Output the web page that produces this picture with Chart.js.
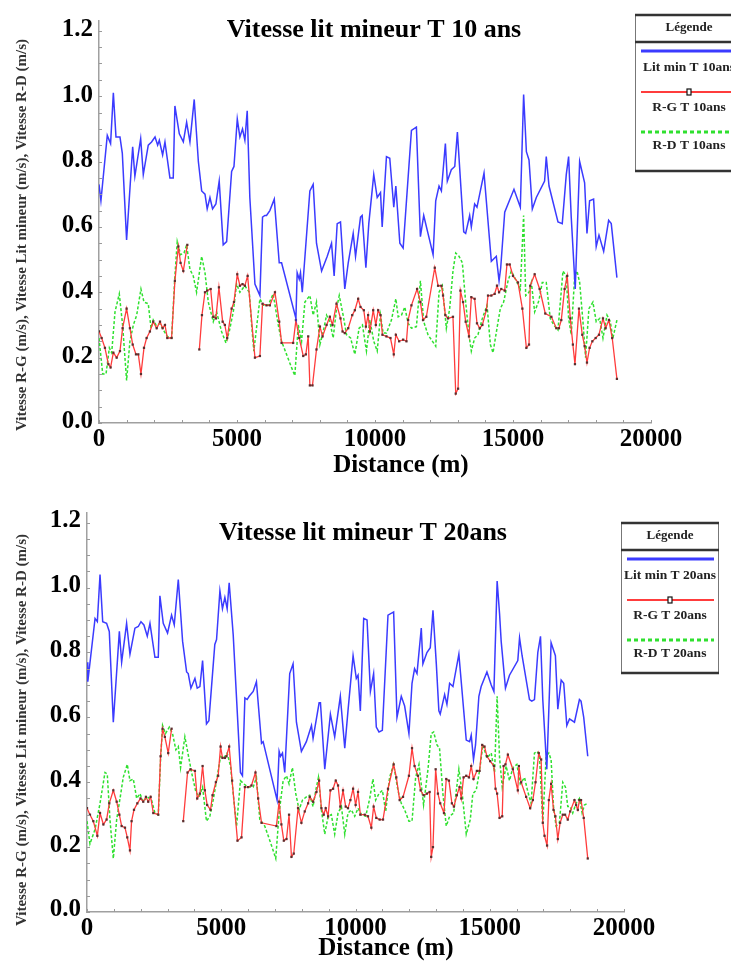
<!DOCTYPE html>
<html>
<head>
<meta charset="utf-8">
<script src="https://cdn.jsdelivr.net/npm/chart.js@4.4.1/dist/chart.umd.min.js"></script>
<style>
  body { margin: 0; background: #fff; width: 731px; height: 967px; overflow: hidden; }
  .box { position: absolute; left: 0; width: 731px; }
</style>
</head>
<body>
<div class="box" style="top:0"><canvas id="c10" width="731" height="485"></canvas></div>
<div class="box" style="top:490px"><canvas id="c20" width="731" height="477"></canvas></div>
<script>
// series names (legend)
const names10 = ["Lit min T 10ans", "R-G T 10ans", "R-D T 10ans"];
const names20 = ["Lit min T 20ans", "R-G T 20ans", "R-D T 20ans"];
const yTitle = "Vitesse R-G (m/s), Vitesse Lit mineur (m/s), Vitesse R-D (m/s)";
const xTitle = "Distance (m)";

// T 10 ans : [distance (m), vitesse (m/s)]
const lit10 = [[0,0.73],[70,0.68],[300,0.88],[420,0.855],[520,1.01],[615,0.875],[760,0.875],[845,0.825],[1000,0.56],[1220,0.845],[1300,0.755],[1510,0.87],[1605,0.76],[1785,0.85],[1905,0.86],[2030,0.875],[2125,0.85],[2185,0.865],[2305,0.82],[2390,0.86],[2570,0.75],[2690,0.75],[2750,0.97],[2910,0.885],[3055,0.86],[3175,0.92],[3295,0.86],[3450,0.99],[3600,0.80],[3720,0.71],[3840,0.70],[3920,0.655],[4020,0.69],[4115,0.655],[4235,0.67],[4355,0.74],[4500,0.545],[4625,0.555],[4805,0.77],[4890,0.785],[5010,0.93],[5105,0.875],[5200,0.90],[5285,0.865],[5370,0.955],[5465,0.69],[5650,0.425],[5830,0.39],[5925,0.63],[6010,0.635],[6070,0.635],[6190,0.65],[6350,0.685],[6530,0.49],[6615,0.49],[7135,0.32],[7180,0.46],[7255,0.44],[7300,0.46],[7365,0.40],[7640,0.71],[7760,0.73],[7880,0.55],[8065,0.465],[8270,0.51],[8425,0.55],[8520,0.45],[8630,0.61],[8750,0.615],[8905,0.41],[9030,0.49],[9210,0.58],[9295,0.51],[9475,0.63],[9535,0.635],[9670,0.475],[9775,0.61],[9955,0.76],[10080,0.69],[10200,0.705],[10260,0.60],[10415,0.815],[10535,0.81],[10680,0.66],[10755,0.725],[10900,0.55],[11020,0.535],[11320,0.895],[11500,0.905],[11645,0.57],[11765,0.635],[11920,0.58],[12105,0.515],[12200,0.68],[12320,0.725],[12405,0.71],[12550,0.855],[12620,0.74],[12765,0.775],[12890,0.785],[12985,0.89],[13215,0.585],[13285,0.58],[13430,0.635],[13490,0.60],[13610,0.67],[13695,0.66],[13950,0.765],[14215,0.495],[14395,0.51],[14495,0.435],[14555,0.475],[14700,0.645],[15035,0.715],[15265,0.66],[15385,1.005],[15485,0.83],[15580,0.805],[15700,0.655],[15845,0.69],[16145,0.74],[16205,0.815],[16305,0.725],[16630,0.615],[16785,0.61],[16930,0.76],[17015,0.815],[17110,0.63],[17255,0.41],[17415,0.80],[17595,0.735],[17680,0.58],[17775,0.68],[17920,0.685],[18015,0.54],[18115,0.575],[18285,0.525],[18465,0.62],[18560,0.61],[18765,0.445]];
const rg10 = [[0,0.28],[95,0.26],[215,0.23],[340,0.18],[420,0.17],[520,0.215],[640,0.20],[760,0.22],[855,0.29],[1000,0.35],[1120,0.29],[1220,0.24],[1340,0.21],[1425,0.21],[1520,0.15],[1630,0.23],[1725,0.26],[1845,0.28],[1965,0.31],[2090,0.29],[2210,0.31],[2305,0.29],[2390,0.30],[2475,0.26],[2630,0.26],[2750,0.435],[2875,0.54],[2955,0.49],[3055,0.465],[3200,0.545],[3400,null],[3635,0.225],[3730,0.33],[3840,0.40],[3920,0.405],[4045,0.41],[4140,0.325],[4235,0.32],[4345,0.415],[4480,0.31],[4560,0.30],[4645,0.26],[4805,0.35],[4890,0.37],[5010,0.455],[5105,0.42],[5200,0.425],[5285,0.42],[5385,0.45],[5650,0.20],[5830,0.205],[5925,0.365],[6070,0.36],[6190,0.36],[6375,0.40],[6530,0.31],[6615,0.245],[7035,0.245],[7135,0.315],[7255,0.26],[7400,0.205],[7495,0.21],[7580,0.265],[7640,0.115],[7735,0.115],[7880,0.225],[8005,0.295],[8100,0.265],[8245,0.30],[8365,0.325],[8460,0.30],[8605,0.365],[8750,0.32],[8825,0.28],[8905,0.275],[9030,0.29],[9175,0.33],[9270,0.345],[9390,0.38],[9475,0.355],[9595,0.345],[9670,0.295],[9750,0.33],[9815,0.28],[9935,0.345],[10030,0.30],[10115,0.345],[10200,0.33],[10270,0.27],[10415,0.265],[10560,0.26],[10680,0.21],[10755,0.27],[10875,0.25],[11020,0.255],[11140,0.25],[11200,0.315],[11320,0.36],[11525,0.41],[11645,0.37],[11740,0.315],[11860,0.325],[12165,0.475],[12285,0.42],[12405,0.42],[12465,0.39],[12550,0.33],[12645,0.32],[12825,0.325],[12925,0.09],[13010,0.105],[13095,0.405],[13190,0.37],[13285,0.31],[13405,0.265],[13490,0.385],[13610,0.38],[13695,0.305],[13795,0.29],[13890,0.30],[14035,0.345],[14095,0.39],[14215,0.39],[14335,0.395],[14420,0.42],[14495,0.40],[14575,0.41],[14700,0.405],[14780,0.485],[14880,0.485],[15000,0.45],[15180,0.43],[15340,0.35],[15485,0.23],[15580,0.24],[15625,0.42],[15785,0.455],[15965,0.41],[16170,0.335],[16390,0.325],[16570,0.29],[16665,0.29],[16750,0.315],[16870,0.41],[16965,0.45],[17075,0.32],[17170,0.24],[17245,0.18],[17390,0.35],[17510,0.27],[17595,0.235],[17680,0.185],[17775,0.23],[17875,0.25],[17995,0.26],[18115,0.27],[18260,0.32],[18355,0.29],[18475,0.315],[18595,0.26],[18765,0.135]];
const rd10 = [[0,0.26],[135,0.15],[255,0.15],[375,0.23],[460,0.215],[580,0.34],[735,0.395],[855,0.30],[1000,0.13],[1120,0.25],[1245,0.30],[1365,0.33],[1520,0.41],[1630,0.37],[1785,0.365],[1885,0.29],[1965,0.315],[2065,0.30],[2210,0.305],[2330,0.285],[2475,0.265],[2630,0.26],[2750,0.45],[2835,0.555],[2955,0.515],[3080,0.52],[3175,0.545],[3295,0.47],[3415,0.45],[3535,0.40],[3720,0.51],[3840,0.46],[3960,0.37],[4140,0.31],[4260,0.34],[4440,0.28],[4600,0.245],[4720,0.28],[4865,0.34],[4985,0.425],[5105,0.40],[5285,0.42],[5445,0.40],[5530,0.30],[5610,0.22],[5830,0.38],[5950,0.36],[6130,0.36],[6310,0.395],[6495,0.30],[6615,0.25],[6795,0.21],[6975,0.17],[7095,0.145],[7220,0.30],[7340,0.25],[7460,0.37],[7640,0.39],[7760,0.33],[7880,0.37],[8005,0.24],[8125,0.28],[8245,0.33],[8365,0.31],[8485,0.26],[8605,0.35],[8705,0.39],[8845,0.33],[8970,0.27],[9115,0.26],[9270,0.21],[9425,0.29],[9545,0.30],[9690,0.22],[9815,0.315],[9955,0.25],[10080,0.22],[10200,0.33],[10295,0.275],[10415,0.275],[10595,0.315],[10755,0.38],[10840,0.325],[10960,0.33],[11080,0.355],[11200,0.305],[11320,0.29],[11500,0.295],[11645,0.435],[11765,0.31],[11920,0.27],[12200,0.235],[12320,0.40],[12440,0.42],[12585,0.29],[12705,0.35],[12825,0.465],[12925,0.52],[13045,0.51],[13165,0.49],[13285,0.37],[13405,0.27],[13490,0.22],[13610,0.26],[13730,0.27],[13890,0.32],[14060,0.36],[14180,0.24],[14275,0.215],[14420,0.29],[14540,0.35],[14660,0.37],[14820,0.435],[14940,0.465],[15120,0.435],[15265,0.41],[15385,0.635],[15460,0.39],[15580,0.40],[15665,0.43],[15785,0.34],[15940,0.375],[16060,0.43],[16205,0.43],[16350,0.32],[16475,0.30],[16630,0.285],[16810,0.465],[16930,0.45],[17015,0.32],[17110,0.27],[17235,0.45],[17320,0.465],[17415,0.43],[17535,0.31],[17630,0.20],[17750,0.35],[17895,0.37],[18015,0.31],[18140,0.32],[18260,0.26],[18405,0.33],[18525,0.31],[18620,0.26],[18765,0.315]];

// T 20 ans
const lit20 = [[0,0.77],[30,0.71],[300,0.905],[385,0.895],[485,1.04],[585,0.895],[730,0.89],[830,0.865],[980,0.585],[1205,0.865],[1290,0.77],[1475,0.89],[1600,0.795],[1785,0.875],[1910,0.88],[2010,0.895],[2120,0.885],[2245,0.85],[2345,0.89],[2530,0.785],[2655,0.785],[2715,0.975],[2840,0.89],[3000,0.86],[3150,0.915],[3250,0.885],[3400,1.025],[3560,0.835],[3710,0.74],[3770,0.735],[3870,0.69],[4020,0.72],[4105,0.69],[4205,0.695],[4305,0.775],[4450,0.58],[4540,0.59],[4760,0.825],[4825,0.84],[4950,0.99],[5045,0.935],[5135,0.97],[5220,0.935],[5295,1.015],[5445,0.855],[5715,0.43],[5790,0.42],[5880,0.66],[5965,0.655],[6040,0.665],[6190,0.68],[6310,0.71],[6500,0.52],[6560,0.525],[7080,0.345],[7155,0.495],[7205,0.48],[7280,0.49],[7365,0.43],[7550,0.735],[7675,0.765],[7800,0.585],[7985,0.495],[8170,0.525],[8360,0.575],[8420,0.535],[8645,0.645],[8695,0.645],[8855,0.44],[9065,0.61],[9225,0.54],[9435,0.665],[9600,0.505],[9720,0.62],[9910,0.79],[10030,0.72],[10095,0.73],[10180,0.62],[10305,0.905],[10430,0.90],[10555,0.68],[10675,0.735],[10775,0.57],[10875,0.555],[11000,0.56],[11210,0.915],[11420,0.925],[11545,0.60],[11705,0.665],[11830,0.635],[11990,0.55],[12105,0.705],[12200,0.75],[12290,0.735],[12450,0.875],[12510,0.765],[12660,0.80],[12785,0.815],[12885,0.93],[13010,0.765],[13105,0.62],[13155,0.61],[13320,0.67],[13405,0.64],[13505,0.705],[13630,0.695],[13850,0.795],[14125,0.53],[14250,0.525],[14310,0.545],[14395,0.47],[14470,0.515],[14595,0.665],[14680,0.695],[14895,0.74],[15055,0.70],[15155,0.68],[15275,1.02],[15365,0.92],[15425,0.835],[15585,0.69],[15735,0.73],[16045,0.775],[16110,0.845],[16205,0.79],[16480,0.655],[16565,0.65],[16665,0.655],[16790,0.80],[16890,0.85],[16975,0.655],[17125,0.44],[17285,0.83],[17445,0.79],[17535,0.625],[17660,0.715],[17755,0.705],[17870,0.575],[17970,0.595],[18155,0.585],[18340,0.655],[18400,0.65],[18500,0.60],[18650,0.48]];
const rg20 = [[0,0.32],[110,0.30],[235,0.28],[385,0.235],[485,0.305],[610,0.27],[730,0.285],[830,0.335],[980,0.375],[1105,0.34],[1205,0.30],[1290,0.265],[1415,0.26],[1500,0.23],[1600,0.19],[1660,0.28],[1750,0.315],[1875,0.335],[1995,0.35],[2095,0.34],[2195,0.355],[2280,0.34],[2370,0.355],[2470,0.305],[2655,0.30],[2740,0.48],[2815,0.565],[2900,0.54],[3025,0.49],[3150,0.565],[3350,null],[3585,0.28],[3745,0.43],[3855,0.44],[4020,0.435],[4105,0.35],[4205,0.365],[4305,0.45],[4390,0.375],[4475,0.33],[4600,0.315],[4675,0.36],[4800,0.40],[4885,0.42],[4975,0.51],[5045,0.475],[5135,0.475],[5195,0.48],[5295,0.51],[5405,0.405],[5605,0.22],[5755,0.23],[5880,0.385],[6000,0.385],[6125,0.39],[6275,0.43],[6375,0.35],[6500,0.275],[7055,0.265],[7155,0.34],[7240,0.27],[7330,0.22],[7430,0.225],[7525,0.30],[7615,0.17],[7700,0.18],[7860,0.32],[7985,0.275],[8110,0.31],[8235,0.335],[8295,0.355],[8420,0.34],[8545,0.37],[8645,0.405],[8730,0.32],[8815,0.30],[8890,0.32],[8980,0.295],[9065,0.375],[9165,0.38],[9265,0.405],[9350,0.39],[9435,0.325],[9535,0.375],[9635,0.325],[9720,0.32],[9810,0.345],[9910,0.38],[10005,0.33],[10095,0.37],[10180,0.30],[10345,0.30],[10465,0.295],[10590,0.26],[10675,0.325],[10775,0.29],[10900,0.285],[11025,0.285],[11210,0.38],[11420,0.455],[11520,0.415],[11645,0.345],[11770,0.355],[11990,0.42],[12105,0.505],[12200,0.45],[12325,0.42],[12425,0.375],[12535,0.36],[12660,0.365],[12760,0.37],[12820,0.17],[12885,0.20],[12985,0.44],[13070,0.365],[13155,0.335],[13295,0.305],[13380,0.41],[13480,0.405],[13590,0.335],[13665,0.325],[13775,0.36],[13875,0.385],[13940,0.35],[14025,0.415],[14125,0.42],[14225,0.415],[14310,0.45],[14395,0.41],[14520,0.435],[14620,0.435],[14720,0.515],[14805,0.51],[14895,0.48],[15015,0.465],[15155,0.45],[15215,0.38],[15275,0.365],[15365,0.29],[15465,0.295],[15515,0.45],[15585,0.455],[15675,0.485],[15860,0.44],[16045,0.375],[16085,0.45],[16170,0.40],[16355,0.355],[16505,0.32],[16605,0.345],[16705,0.40],[16825,0.49],[16915,0.47],[16975,0.275],[17040,0.235],[17135,0.205],[17200,0.345],[17285,0.395],[17375,0.315],[17445,0.295],[17535,0.225],[17620,0.275],[17720,0.30],[17805,0.30],[17905,0.285],[17995,0.31],[18155,0.345],[18215,0.33],[18280,0.315],[18340,0.345],[18400,0.345],[18500,0.29],[18650,0.165]];
const rd20 = [[0,0.28],[110,0.21],[300,0.255],[485,0.335],[670,0.43],[755,0.425],[855,0.285],[980,0.165],[1105,0.285],[1230,0.35],[1350,0.415],[1500,0.455],[1600,0.405],[1725,0.41],[1850,0.35],[1970,0.365],[2095,0.34],[2245,0.355],[2405,0.345],[2530,0.305],[2655,0.30],[2740,0.47],[2815,0.575],[2925,0.55],[3065,0.57],[3185,0.55],[3310,0.50],[3400,0.51],[3485,0.445],[3645,0.54],[3770,0.485],[3895,0.43],[4055,0.37],[4180,0.355],[4305,0.385],[4450,0.28],[4575,0.295],[4700,0.345],[4825,0.405],[4975,0.48],[5095,0.475],[5220,0.49],[5345,0.45],[5470,0.345],[5570,0.265],[5715,0.405],[5840,0.395],[6000,0.385],[6190,0.385],[6310,0.415],[6435,0.285],[6620,0.265],[6810,0.22],[7030,0.165],[7155,0.305],[7305,0.405],[7430,0.42],[7525,0.395],[7650,0.445],[7775,0.365],[7900,0.315],[8025,0.345],[8170,0.355],[8295,0.36],[8420,0.325],[8520,0.375],[8620,0.415],[8730,0.315],[8855,0.24],[8980,0.295],[9100,0.30],[9225,0.24],[9350,0.305],[9475,0.325],[9600,0.24],[9720,0.305],[9845,0.315],[9970,0.295],[10095,0.32],[10220,0.30],[10380,0.295],[10530,0.35],[10650,0.41],[10750,0.345],[10875,0.365],[11000,0.375],[11125,0.31],[11270,0.415],[11420,0.455],[11580,0.375],[11705,0.335],[11830,0.315],[11990,0.28],[12105,0.28],[12240,0.415],[12365,0.455],[12535,0.33],[12700,0.44],[12820,0.55],[12910,0.555],[13035,0.515],[13130,0.505],[13255,0.365],[13380,0.265],[13505,0.295],[13655,0.305],[13850,0.44],[13975,0.365],[14125,0.24],[14275,0.285],[14370,0.365],[14495,0.375],[14620,0.435],[14745,0.515],[14895,0.475],[15055,0.49],[15180,0.43],[15275,0.665],[15365,0.475],[15465,0.385],[15610,0.45],[15735,0.405],[15860,0.445],[16010,0.455],[16135,0.395],[16295,0.415],[16420,0.37],[16540,0.335],[16665,0.49],[16755,0.495],[16850,0.485],[16975,0.275],[17100,0.48],[17200,0.49],[17285,0.47],[17375,0.325],[17470,0.265],[17595,0.275],[17720,0.40],[17820,0.385],[17905,0.325],[17995,0.325],[18090,0.305],[18215,0.335],[18340,0.35],[18440,0.305],[18525,0.33],[18650,0.335]];

const serif = "'Liberation Serif', 'Times New Roman', serif";
const BLUE = "#3b3bff", RED = "#ff3c3c", GREEN = "#2fe02f", MARK = "#5b2e2e";

function pts(arr) { return arr.map(p => ({ x: p[0], y: p[1] })); }

// titles, minor ticks and the boxed legend
const decor = {
  id: "decor",
  afterDraw(chart, args, o) {
    const ctx = chart.ctx, xs = chart.scales.x, ys = chart.scales.y, a = chart.chartArea;
    ctx.save();
    // minor ticks, pointing inside
    ctx.strokeStyle = "#9a9a9a";
    ctx.lineWidth = 1;
    ctx.beginPath();
    for (let i = 0; i <= 24; i++) {
      const py = Math.round(ys.getPixelForValue(i * 0.05)) + 0.5;
      ctx.moveTo(a.left, py); ctx.lineTo(a.left + 3, py);
    }
    for (let i = 0; i <= 20; i++) {
      const px = Math.round(xs.getPixelForValue(i * 1000)) + 0.5;
      ctx.moveTo(px, a.bottom); ctx.lineTo(px, a.bottom - 3);
    }
    ctx.stroke();

    // chart title and x title
    ctx.fillStyle = "#000";
    ctx.textAlign = "center";
    ctx.textBaseline = "middle";
    ctx.font = "bold 26px " + serif;
    ctx.fillText(o.title, o.titleX, o.titleY);
    ctx.font = "bold 25px " + serif;
    ctx.fillText(xTitle, o.xtX, o.xtY);

    // y axis title
    ctx.save();
    ctx.translate(o.ytX, o.ytY);
    ctx.rotate(-Math.PI / 2);
    ctx.fillStyle = "#333";
    ctx.font = "bold 15px " + serif;
    ctx.fillText(yTitle, 0, 0);
    ctx.restore();

    // legend box
    const L = o.legend;
    const cx = L.x + L.w / 2;
    ctx.strokeStyle = "#777"; ctx.lineWidth = 1;
    ctx.beginPath();
    ctx.moveTo(L.x + 0.5, L.y); ctx.lineTo(L.x + 0.5, L.y + L.h);
    ctx.moveTo(L.x + L.w - 0.5, L.y); ctx.lineTo(L.x + L.w - 0.5, L.y + L.h);
    ctx.stroke();
    ctx.strokeStyle = "#333"; ctx.lineWidth = 2.5;
    ctx.beginPath();
    ctx.moveTo(L.x, L.y); ctx.lineTo(L.x + L.w, L.y);
    ctx.moveTo(L.x, L.y + L.h); ctx.lineTo(L.x + L.w, L.y + L.h);
    ctx.moveTo(L.x, L.y + 27); ctx.lineTo(L.x + L.w, L.y + 27);
    ctx.stroke();
    ctx.font = "bold 13px " + serif;
    ctx.fillStyle = "#222";
    ctx.fillText("Légende", cx, L.y + 13);

    const lineY = [36, 77, 117], textY = [53, 93, 131];
    chart.data.datasets.forEach((ds, i) => {
      const ly = L.y + lineY[i];
      ctx.save();
      ctx.strokeStyle = ds.borderColor;
      ctx.lineWidth = i === 1 ? 2 : 3;
      if (i === 2) ctx.setLineDash([4, 3]);
      ctx.beginPath();
      ctx.moveTo(L.x + 6, ly); ctx.lineTo(L.x + L.w - 5, ly);
      ctx.stroke();
      ctx.restore();
      if (i === 1) {
        ctx.fillStyle = "#fff"; ctx.strokeStyle = "#111"; ctx.lineWidth = 1.2;
        ctx.fillRect(cx - 2, ly - 3, 4, 6);
        ctx.strokeRect(cx - 2, ly - 3, 4, 6);
      }
      ctx.fillStyle = "#222";
      ctx.font = "bold 13.5px " + serif;
      ctx.fillText(ds.label, cx, L.y + textY[i]);
    });
    ctx.restore();
  }
};

function makeChart(id, lit, rg, rd, names, o) {
  return new Chart(document.getElementById(id), {
    type: "line",
    data: {
      datasets: [
        { label: names[0], data: pts(lit), borderColor: BLUE, borderWidth: 1.5, pointRadius: 0 },
        { label: names[1], data: pts(rg), borderColor: RED, borderWidth: 1.3, pointStyle: "rect",
          pointRadius: 1.6, pointBackgroundColor: MARK, pointBorderColor: MARK, pointBorderWidth: 0 },
        { label: names[2], data: pts(rd), borderColor: GREEN, borderWidth: 1.5, borderDash: [3, 2], pointRadius: 0 }
      ]
    },
    options: {
      responsive: false,
      animation: false,
      devicePixelRatio: 1,
      spanGaps: false,
      layout: { padding: { top: o.top, right: o.right, left: 0, bottom: 0 } },
      plugins: {
        legend: { display: false },
        tooltip: { enabled: false },
        decor: o
      },
      scales: {
        x: {
          type: "linear", min: 0, max: 20000,
          afterFit: s => { s.height = o.xh; },
          ticks: { stepSize: 5000, color: "#000", font: { family: serif, size: 25, weight: "bold" }, padding: 2, maxRotation: 0,
            callback: v => String(v) },
          grid: { drawOnChartArea: false, drawTicks: false },
          border: { color: "#a0a0a0", width: 1.5 }
        },
        y: {
          min: 0, max: 1.23,
          afterFit: s => { s.width = o.yw; },
          ticks: { stepSize: 0.2, includeBounds: false, color: "#000", font: { family: serif, size: 25, weight: "bold" }, padding: 6,
            labelOffset: o.lo, callback: v => v.toFixed(1) },
          grid: { drawOnChartArea: false, drawTicks: false },
          border: { color: "#a0a0a0", width: 1.5 }
        }
      }
    },
    plugins: [decor]
  });
}

makeChart("c10", lit10, rg10, rd10, names10, {
  top: 14, right: 80, yw: 99, xh: 62, lo: -1,
  title: "Vitesse lit mineur T 10 ans", titleX: 374, titleY: 30, ytX: 22, ytY: 235,
  xtX: 401, xtY: 466,
  legend: { x: 635, y: 15, w: 108, h: 156 }
});
makeChart("c20", lit20, rg20, rd20, names20, {
  top: 23, right: 107, yw: 87, xh: 55, lo: -2,
  title: "Vitesse lit mineur T 20ans", titleX: 363, titleY: 43, ytX: 22, ytY: 240,
  xtX: 386, xtY: 459,
  legend: { x: 621, y: 33, w: 98, h: 150 }
});
</script>
</body>
</html>
